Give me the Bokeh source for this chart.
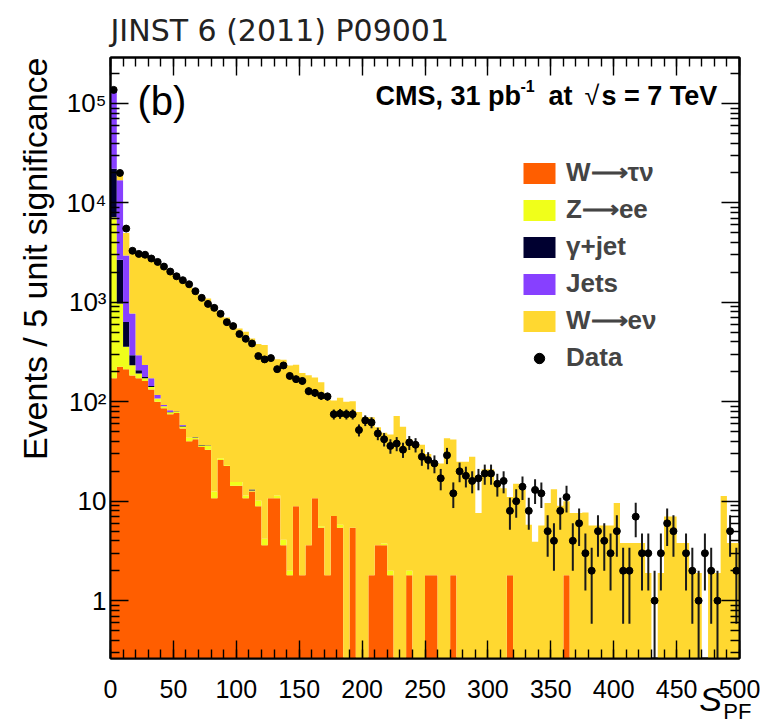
import numpy as np
from bokeh.plotting import figure
from bokeh.models import (Range1d, LinearAxis, LogAxis, FixedTicker, SingleIntervalTicker,
                          Label, Legend, LegendItem, Title)
from bokeh.embed import file_html
from bokeh.resources import INLINE

# ---------------- data (bins of 5 units, 0..500) ----------------
bin_edges = list(range(0, 505, 5))

w_tau = [172, 225, 212, 184, 172, 162, 133, 100, 86, 75,
         77, 54, 40, 42, 35, 33, 10.7, 26, 22.7, 14.3,
         14.3, 10.7, 12.5, 8.9, 3.6, 10.7, 10.7, 3.6, 1.8, 8.9,
         1.8, 3.6, 10.7, 5.4, 1.8, 7.1, 5.4, 0, 5.4, 0,
         0, 1.8, 3.6, 3.6, 1.8, 0, 0, 1.8, 0, 0,
         1.8, 1.8, 0, 0, 1.8, 0, 0, 0, 0, 0,
         0, 0, 0, 1.8, 0, 0, 0, 0, 0, 0,
         0, 0, 1.8, 0, 0, 0, 0, 0, 0, 0,
         0, 0, 0, 0, 0, 0, 0, 0, 0, 0,
         0, 0, 0, 0, 0, 0, 0, 0, 0, 0]

z_ee = [7000, 750, 145, 49, 21, 10, 8, 8, 4, 3.5,
        2, 2.5, 3.6, 1.6, 1.3, 3.0, 1.8, 1, 0.5, 1.3,
        1.3, 0.7, 0.3, 1.2, 0.6, 0, 0.7, 0.5, 0.2, 0,
        0, 0, 0, 0.2, 0, 0, 0.4, 0, 0, 0,
        0, 0, 0, 0.15, 0.2, 0, 0, 0.2, 0, 0,
        0, 0, 0, 0, 0, 0, 0, 0, 0, 0,
        0, 0, 0, 0, 0, 0, 0, 0, 0, 0,
        0, 0, 0, 0, 0, 0, 0, 0, 0, 0,
        0, 0, 0, 0, 0, 0, 0, 0, 0, 0,
        0, 0, 0, 0, 0, 0, 0, 0, 0, 0]

gamma_jet = [14900, 1700, 277, 61, 15, 6, 3, 0, 0, 0.5,
             1, 1, 0, 0.5, 0.5, 0.3, 0, 0, 0, 0,
             0, 0, 0.3, 0, 0, 0, 0, 0, 0, 0,
             0, 0, 0, 0, 0, 0, 0, 0, 0, 0,
             0, 0, 0, 0, 0, 0, 0, 0, 0, 0,
             0, 0, 0, 0, 0, 0, 0, 0, 0, 0,
             0, 0, 0, 0, 0, 0, 0, 0, 0, 0,
             0, 0, 0, 0, 0, 0, 0, 0, 0, 0,
             0, 0, 0, 0, 0, 0, 0, 0, 0, 0,
             0, 0, 0, 0, 0, 0, 0, 0, 0, 0]

jets = [122000, 14200, 2320, 479, 86, 56, 28, 9, 3, 3,
        0, 1, 0, 0, 0, 0, 0, 0, 0, 0,
        0, 0, 0, 0, 0, 0, 0, 0, 0, 0,
        0, 0, 0, 0, 0, 0, 0, 0, 0, 0,
        0, 0, 0, 0, 0, 0, 0, 0, 0, 0,
        0, 0, 0, 0, 0, 0, 0, 0, 0, 0,
        0, 0, 0, 0, 0, 0, 0, 0, 0, 0,
        0, 0, 0, 0, 0, 0, 0, 0, 0, 0,
        0, 0, 0, 0, 0, 0, 0, 0, 0, 0,
        0, 0, 0, 0, 0, 0, 0, 0, 0, 0]

w_enu = [2000, 3500, 2040, 2700, 2810, 2750, 2590, 2430, 2220, 2020,
         1870, 1680, 1505, 1285, 1115, 1060, 925, 776, 682, 598,
         531, 495, 421, 371, 368, 262, 256, 261, 230, 227,
         193, 181, 165, 152, 103, 96, 104, 100, 96, 79,
         70, 68, 52, 45, 45, 72, 56, 40, 38, 37,
         28, 22, 24, 43, 40, 25, 25, 28, 7.6, 21,
         21, 15, 13.5, 9.2, 15, 13, 5.8, 3.9, 5.7, 9.6,
         13.2, 9, 8.2, 7.6, 7.6, 7.7, 5.7, 5.7, 5.7, 5.7,
         9.6, 3.8, 3.8, 3.8, 3.8, 1.9, 0, 1.9, 7.0, 7.0,
         3.8, 3.8, 1.9, 1.9, 0, 1.9, 1.9, 11.3, 3.8, 3.8]

data = [137000, 20000, 5520, 3300, 3070, 3010, 2760, 2550, 2290, 2040,
        1830, 1670, 1520, 1295, 1110, 965, 880, 767, 632, 577,
        480, 430, 386, 288, 267, 275, 213, 232, 182, 169,
        162, 128, 123, 115, 113, 75, 76, 75, 75, 52,
        65, 62, 48, 42, 36, 38, 33, 39, 37, 28,
        26, 24, 17, 29, 12, 20, 18, 16, 17, 19,
        19, 15, 16, 8, 10, 14, 8, 13, 12, 5,
        4, 8, 11, 4, 6, 3, 2, 5, 4, 3,
        5, 2, 2, 7, 3, 3, 1, 3, 6, 5,
        0, 3, 2, 1, 3, 2, 1, 0, 5, 2]

series_names = ["W\u27f6\u03c4\u03bd", "Z\u27f6ee", "\u03b3+jet", "Jets", "W\u27f6e\u03bd"]
series_colors = ["#FF5E00", "#F0FF1A", "#000030", "#8740FF", "#FFD830"]

x_tick_values = [0, 50, 100, 150, 200, 250, 300, 350, 400, 450, 500]
y_tick_values = [1, 10, 100, 1000, 10000, 100000]
y_tick_labels = ["1", "10", "10\u00b2", "10\u00b3", "10\u2074", "10\u2075"]

# ---------------- figure ----------------
Y_LO, Y_HI = 0.262, 2.9e5
FONT = "Liberation Sans"

p = figure(width=760, height=726, x_range=Range1d(0, 500), y_range=Range1d(Y_LO, Y_HI),
           y_axis_type="log", output_backend="svg", toolbar_location=None,
           min_border_left=110, min_border_right=21, min_border_top=57, min_border_bottom=67,
           title="JINST 6 (2011) P09001")
p.title.text_font = "DejaVu Sans"
p.title.text_font_size = "30px"
p.title.text_font_style = "normal"
p.title.text_color = "#222222"
p.title.standoff = 20
p.grid.visible = False
p.outline_line_color = "black"
p.outline_line_width = 2
p.background_fill_color = "white"
p.border_fill_color = "white"

edges = np.array(bin_edges, dtype=float)
left, right = edges[:-1], edges[1:]
step_x = np.column_stack([left, right]).ravel()
bottom = np.full(len(left), 1e-3)
renderers = []
for vals, color in zip([w_tau, z_ee, gamma_jet, jets, w_enu], series_colors):
    v = np.array(vals, dtype=float)
    top = bottom + v
    r = p.varea(x=step_x, y1=np.repeat(bottom, 2), y2=np.repeat(top, 2), fill_color=color)
    renderers.append(r)
    bottom = top

d = np.array(data, dtype=float)
centers = 0.5 * (left + right)
md = d > 0
err = np.sqrt(d[md])
lo = np.maximum(d[md] - err, 1e-3)
hi = d[md] + err
p.segment(x0=centers[md], y0=lo, x1=centers[md], y1=hi, line_color="#1a1a1a", line_width=2)
r_data = p.scatter(x=centers[md], y=d[md], size=7, marker="circle",
                   fill_color="black", line_color="black")

# ---------------- axes ----------------
minor_log = [m * 10.0 ** k for k in range(-1, 6) for m in range(2, 10)
             if Y_LO < m * 10.0 ** k < Y_HI]

xa = p.xaxis[0]
xa.ticker = SingleIntervalTicker(interval=50, num_minor_ticks=5)
ya = p.yaxis[0]
ya.ticker = FixedTicker(ticks=y_tick_values, minor_ticks=minor_log)
ya.major_label_overrides = {v: t for v, t in zip(y_tick_values, y_tick_labels)}

blank_y = {v: "" for v in y_tick_values}
blank_x = {v: "" for v in x_tick_values}
top_ax = LinearAxis(ticker=SingleIntervalTicker(interval=50, num_minor_ticks=5),
                    major_label_overrides=blank_x)
right_ax = LogAxis(ticker=FixedTicker(ticks=y_tick_values, minor_ticks=minor_log),
                   major_label_overrides=blank_y)
p.add_layout(top_ax, "above")
p.add_layout(right_ax, "right")

for ax in [xa, ya, top_ax, right_ax]:
    ax.major_tick_in = 18
    ax.major_tick_out = 0
    ax.minor_tick_in = 9
    ax.minor_tick_out = 0
    ax.axis_line_width = 2
    ax.axis_line_color = "black"
    ax.major_tick_line_width = 1.4
    ax.minor_tick_line_width = 1.4
    ax.major_tick_line_color = "black"
    ax.minor_tick_line_color = "black"
    ax.major_label_standoff = 0

for ax in [xa, ya]:
    ax.major_label_text_font = FONT
    ax.major_label_text_font_size = "26px" if ax is ya else "25px"
    ax.major_label_text_color = "black"
xa.major_label_standoff = 21
ya.major_label_standoff = 4


def align_end(ax):
    for val in ("end", "right"):
        try:
            ax.axis_label_align = val
            return
        except Exception:
            pass


# x axis title: italic S (main axis label), subscript PF (label of a blank second axis)
xa.axis_label = "S\u2003\u2002\u2009"
xa.axis_label_text_font = FONT
xa.axis_label_text_font_size = "34px"
xa.axis_label_text_font_style = "italic"
xa.axis_label_text_color = "black"
xa.axis_label_standoff = -21
align_end(xa)

pf_ax = LinearAxis(ticker=FixedTicker(ticks=[]), axis_label="PF\u2009",
                   axis_label_text_font=FONT, axis_label_text_font_size="22px",
                   axis_label_text_font_style="normal", axis_label_text_color="black",
                   axis_label_standoff=-22, axis_line_color=None,
                   major_tick_in=0, major_tick_out=0, minor_tick_in=0, minor_tick_out=0)
align_end(pf_ax)
p.add_layout(pf_ax, "below")

# y axis title on the left, aligned to the top end
ytitle = Title(text="Events / 5 unit significance", align="right", text_font=FONT,
               text_font_size="34px", text_font_style="normal", text_color="black",
               standoff=20)
p.add_layout(ytitle, "left")

# ---------------- in-frame texts ----------------
FR_L, FR_B = 110, 659

def add_text(px, py, text, size, style="normal"):
    p.add_layout(Label(x=float(px - FR_L), y=float(FR_B - py), x_units="screen", y_units="screen",
                       text=text, text_font=FONT, text_font_size=f"{size}px",
                       text_font_style=style, text_align="left", text_baseline="middle",
                       text_color="black"))

add_text(137, 101, "(b)", 40)
add_text(375, 96, "CMS, 31 pb", 27, style="bold")
add_text(520, 86, "-1", 16, style="bold")
add_text(548, 96, "at", 27, style="bold")
add_text(584, 96, "\u221a", 27, style="normal")
add_text(601, 96, "s = 7 TeV", 27, style="bold")

# ---------------- legend ----------------
items = [LegendItem(label=n, renderers=[r]) for n, r in zip(series_names, renderers)]
items.append(LegendItem(label="Data", renderers=[r_data]))
legend = Legend(items=items, location=(409, 285), glyph_width=40, glyph_height=26,
                label_text_font=FONT, label_text_font_style="bold",
                label_text_font_size="26px", label_standoff=7, label_height=26,
                spacing=6, padding=0, margin=0, border_line_alpha=0,
                background_fill_alpha=0)
p.add_layout(legend)

open("out.html", "w").write(file_html(p, INLINE))
